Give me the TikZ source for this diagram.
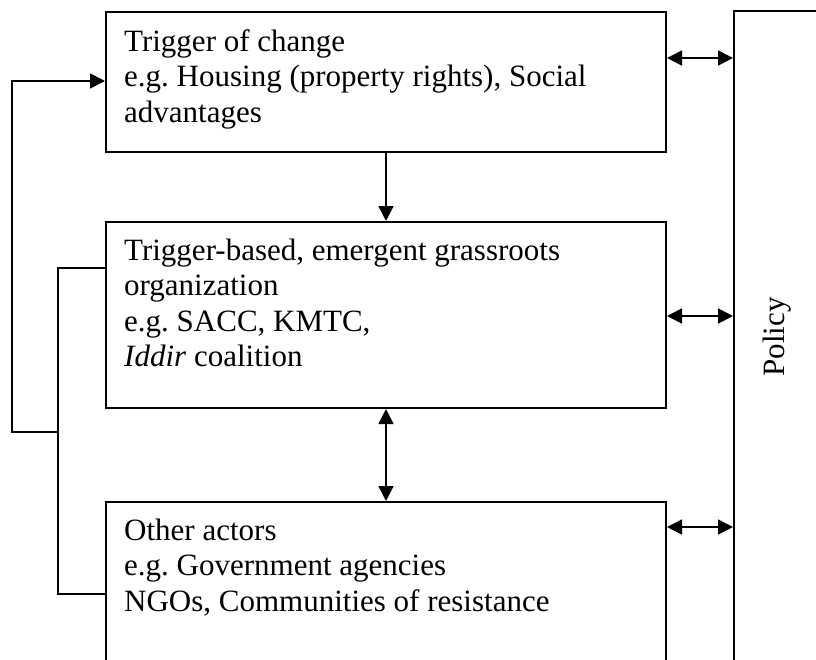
\documentclass[tikz,border=0pt]{standalone}
\usepackage{fontspec}
\setmainfont{Liberation Serif}
\usetikzlibrary{arrows.meta,calc}
\frenchspacing

\tikzset{
  panel/.style={draw, line width=2pt, anchor=north west, inner sep=0pt},
  lbl/.style={anchor=base west, align=left, inner sep=0pt,
              font=\fontsize{31}{35.6}\selectfont},
  conn/.style={line width=1.7pt},
  tip/.style={Triangle[length=15pt,width=15pt]},
  arr/.style={conn, -{Triangle[length=15pt,width=15pt]}},
  dbl/.style={conn, {Triangle[length=15pt,width=15pt]}-{Triangle[length=15pt,width=15pt]}}
}

\begin{document}
\begin{tikzpicture}[x=1pt, y=-1pt]
  \useasboundingbox (0,0) rectangle (816,659);

  % the three stacked boxes
  \node[panel, minimum width=560pt, minimum height=140pt] (trig) at (105,11) {};
  \node[panel, minimum width=560pt, minimum height=186pt] (grass) at (105,221) {};
  \node[panel, minimum width=560pt, minimum height=200pt] (actors) at (105,501) {};

  % policy column on the right
  \node[draw, line width=2pt, rotate=90, inner sep=0pt,
        minimum width=652pt, minimum height=86pt,
        font=\fontsize{31}{35.6}\selectfont] (policy) at (777,337) {Policy};

  % box texts (anchored on the baseline of their last line)
  \node[lbl] (trigtxt) at (124,122.2) {Trigger of change\\e.g. Housing (property rights), Social\\advantages};
  \node[lbl] (grasstxt) at (124,366.8) {Trigger-based, emergent grassroots\\organization\\e.g. SACC, KMTC,\\\textit{Iddir} coalition};
  \node[lbl] (actorstxt) at (124,611.2) {Other actors\\e.g. Government agencies\\NGOs, Communities of resistance};

  % vertical links between the boxes
  \draw[arr] (trig.south) -- (grass.north);
  \draw[dbl] (grass.south) -- (actors.north);

  % links to the policy column
  \coordinate (p1) at ($(trig.north east)+(0,47)$);
  \coordinate (p2) at ($(grass.north east)+(0,95)$);
  \coordinate (p3) at ($(actors.north east)+(0,26)$);
  \draw[dbl] (p1) -- (p1 -| policy.north);
  \draw[dbl] (p2) -- (p2 -| policy.north);
  \draw[dbl] (p3) -- (p3 -| policy.north);

  % feedback loop on the left
  \coordinate (t1) at ($(trig.north west)+(0,70)$);
  \coordinate (g1) at ($(grass.north west)+(0,47)$);
  \coordinate (a1) at ($(actors.north west)+(0,93)$);
  \coordinate (bus) at (58,432);
  \coordinate (loop) at (12,432);
  \draw[conn] (g1) -- (g1 -| bus) -- (bus |- a1) -- (a1);
  \draw[arr] (bus) -- (loop) |- (t1);
\end{tikzpicture}
\end{document}
